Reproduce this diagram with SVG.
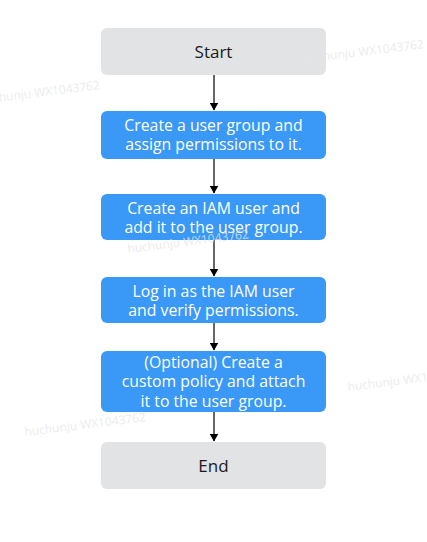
<svg xmlns="http://www.w3.org/2000/svg" width="427" height="542" viewBox="0 0 427 542">
<style>
.t{font-family:"Open Sans","Noto Sans","Liberation Sans",sans-serif;font-size:15.8px;text-anchor:middle}
.g{fill:#e1e3e4}
.b{fill:#3a98f6}
.tw{fill:#ffffff}
.tk{fill:#1a1a1a;font-size:17px}
.wm{font-family:"Open Sans","Noto Sans","Liberation Sans",sans-serif;font-size:12px;fill:#e6e6e6;fill-opacity:0.8}
.c{stroke:#000;stroke-width:1.2;fill:none}
</style>
<defs>
<marker id="ah" markerWidth="8" markerHeight="9" refX="7.5" refY="4.5" orient="auto" markerUnits="userSpaceOnUse">
<path d="M0,0 L8,4.5 L0,9 z" fill="#000"/>
</marker>
</defs>
<rect width="427" height="542" fill="#fff"/>
<g id="connectors">
<line class="c" x1="214" y1="75" x2="214" y2="110" marker-end="url(#ah)"/>
<line class="c" x1="214" y1="159" x2="214" y2="193" marker-end="url(#ah)"/>
<line class="c" x1="214" y1="240" x2="214" y2="276" marker-end="url(#ah)"/>
<line class="c" x1="214" y1="323" x2="214" y2="350" marker-end="url(#ah)"/>
<line class="c" x1="214" y1="412" x2="214" y2="441" marker-end="url(#ah)"/>
</g>
<g id="start">
<rect class="g" x="101" y="28" width="225" height="47" rx="6"/>
<text class="t tk" x="213.5" y="58">Start</text>
</g>
<g id="step1">
<rect class="b" x="101" y="111" width="225" height="48" rx="6"/>
<text class="t tw" x="213.5" y="131">Create a user group and</text>
<text class="t tw" x="213.5" y="150">assign permissions to it.</text>
</g>
<g id="step2">
<rect class="b" x="101" y="194" width="225" height="46" rx="6"/>
<text class="t tw" x="213.5" y="214">Create an IAM user and</text>
<text class="t tw" x="213.5" y="233">add it to the user group.</text>
</g>
<g id="step3">
<rect class="b" x="101" y="277" width="225" height="46" rx="6"/>
<text class="t tw" x="213.5" y="297">Log in as the IAM user</text>
<text class="t tw" x="213.5" y="316">and verify permissions.</text>
</g>
<g id="step4">
<rect class="b" x="101" y="351" width="225" height="61" rx="6"/>
<text class="t tw" x="213.5" y="368">(Optional) Create a</text>
<text class="t tw" x="213.5" y="387">custom policy and attach</text>
<text class="t tw" x="213.5" y="407">it to the user group.</text>
</g>
<g id="end">
<rect class="g" x="101" y="442" width="225" height="47" rx="6"/>
<text class="t tk" x="213.5" y="472">End</text>
</g>
<g id="watermarks">
<text class="wm" transform="translate(303,63) rotate(-7)">huchunju WX1043762</text>
<text class="wm" transform="translate(-21,104) rotate(-7)">huchunju WX1043762</text>
<text class="wm" transform="translate(128,253) rotate(-7)">huchunju WX1043762</text>
<text class="wm" transform="translate(348,391) rotate(-7)">huchunju WX1043762</text>
<text class="wm" transform="translate(25,436) rotate(-7)">huchunju WX1043762</text>
</g>
</svg>
